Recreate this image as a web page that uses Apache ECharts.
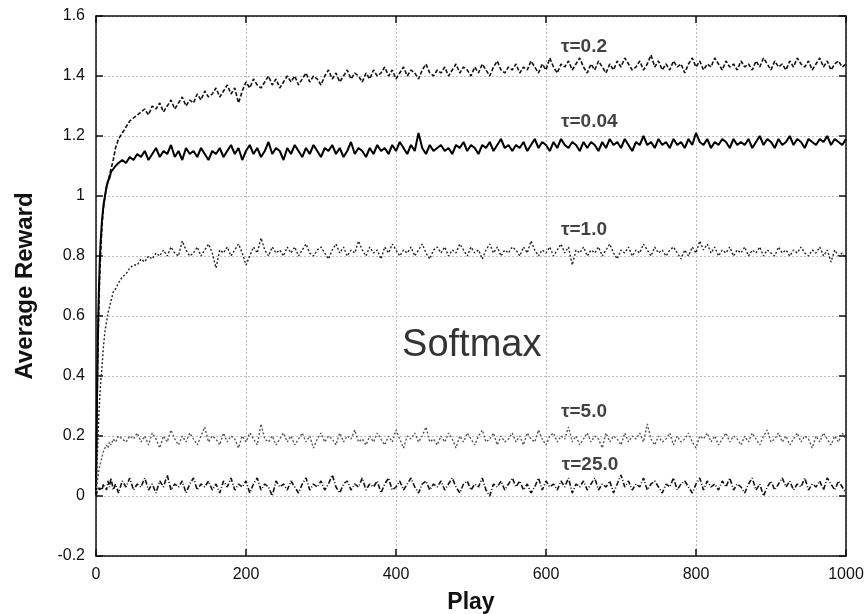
<!DOCTYPE html>
<html>
<head>
<meta charset="utf-8">
<script src="https://cdn.jsdelivr.net/npm/echarts@6/dist/echarts.min.js"></script>
<style>html,body{margin:0;padding:0;background:#fff}#c{width:868px;height:614px}</style>
</head>
<body>
<div id="c"></div>
<script>
var plays = [
  0,1,2,3,4,5,6,8,10,12,
  14,16,18,20,23,26,30,35,40,45,
  50,55,
  60,65,70,75,80,85,90,95,100,105,110,115,120,125,130,135,140,145,150,155,
  160,165,170,175,180,185,190,195,200,205,210,215,220,225,230,235,240,245,250,255,
  260,265,270,275,280,285,290,295,300,305,310,315,320,325,330,335,340,345,350,355,
  360,365,370,375,380,385,390,395,400,405,410,415,420,425,430,435,440,445,450,455,
  460,465,470,475,480,485,490,495,500,505,510,515,520,525,530,535,540,545,550,555,
  560,565,570,575,580,585,590,595,600,605,610,615,620,625,630,635,640,645,650,655,
  660,665,670,675,680,685,690,695,700,705,710,715,720,725,730,735,740,745,750,755,
  760,765,770,775,780,785,790,795,800,805,810,815,820,825,830,835,840,845,850,855,
  860,865,870,875,880,885,890,895,900,905,910,915,920,925,930,935,940,945,950,955,
  960,965,970,975,980,985,990,995,1000
];
var tau02 = [
  0.00,0.22,0.40,0.54,0.65,0.74,0.80,0.90,0.96,1.00,
  1.03,1.05,1.07,1.09,1.12,1.16,1.19,1.21,1.23,1.25,
  1.26,1.27,
  1.28,1.29,1.27,1.30,1.29,1.31,1.28,1.30,1.32,1.29,1.31,1.33,1.30,1.32,1.31,1.34,1.32,1.35,1.33,1.34,
  1.36,1.33,1.35,1.37,1.34,1.36,1.31,1.35,1.38,1.36,1.39,1.37,1.36,1.38,1.40,1.37,1.39,1.36,1.38,1.40,
  1.38,1.40,1.37,1.39,1.41,1.38,1.40,1.39,1.37,1.40,1.42,1.39,1.41,1.38,1.40,1.42,1.39,1.41,1.40,1.38,
  1.41,1.39,1.42,1.40,1.41,1.43,1.40,1.42,1.39,1.41,1.43,1.40,1.42,1.41,1.39,1.42,1.44,1.41,1.40,1.42,
  1.41,1.43,1.40,1.42,1.44,1.41,1.43,1.42,1.40,1.43,1.41,1.44,1.42,1.40,1.43,1.45,1.42,1.41,1.43,1.42,
  1.44,1.41,1.43,1.42,1.45,1.43,1.41,1.44,1.42,1.46,1.43,1.41,1.44,1.43,1.45,1.42,1.44,1.46,1.43,1.41,
  1.44,1.42,1.45,1.43,1.41,1.44,1.42,1.45,1.43,1.46,1.44,1.42,1.43,1.45,1.42,1.44,1.47,1.43,1.45,1.42,
  1.44,1.42,1.45,1.43,1.44,1.41,1.44,1.46,1.43,1.45,1.42,1.44,1.43,1.46,1.44,1.42,1.45,1.43,1.44,1.42,
  1.45,1.43,1.44,1.42,1.45,1.43,1.46,1.44,1.42,1.45,1.43,1.44,1.42,1.45,1.43,1.46,1.44,1.43,1.45,1.42,
  1.44,1.46,1.43,1.45,1.42,1.44,1.45,1.43,1.44
];
var tau004 = [
  0.00,0.25,0.45,0.60,0.70,0.78,0.84,0.92,0.97,1.00,
  1.03,1.05,1.06,1.08,1.09,1.10,1.11,1.12,1.11,1.13,
  1.12,1.14,
  1.13,1.15,1.12,1.14,1.16,1.13,1.15,1.14,1.17,1.13,1.15,1.12,1.16,1.14,1.15,1.13,1.16,1.14,1.12,1.15,
  1.14,1.16,1.13,1.15,1.17,1.14,1.16,1.12,1.15,1.17,1.14,1.16,1.13,1.15,1.18,1.14,1.16,1.15,1.12,1.16,
  1.14,1.17,1.15,1.13,1.16,1.14,1.17,1.15,1.13,1.16,1.15,1.17,1.14,1.16,1.13,1.15,1.18,1.14,1.16,1.15,
  1.13,1.16,1.14,1.17,1.15,1.16,1.14,1.17,1.15,1.18,1.16,1.14,1.17,1.15,1.21,1.16,1.14,1.17,1.15,1.16,
  1.17,1.15,1.16,1.14,1.17,1.16,1.18,1.15,1.17,1.16,1.14,1.17,1.16,1.18,1.15,1.17,1.19,1.16,1.17,1.15,
  1.17,1.16,1.18,1.15,1.17,1.19,1.16,1.18,1.17,1.15,1.18,1.16,1.19,1.17,1.16,1.18,1.17,1.15,1.18,1.16,
  1.18,1.17,1.15,1.18,1.16,1.19,1.17,1.18,1.16,1.19,1.17,1.15,1.18,1.17,1.20,1.17,1.18,1.16,1.19,1.17,
  1.18,1.16,1.19,1.17,1.18,1.16,1.19,1.17,1.21,1.18,1.17,1.19,1.16,1.18,1.17,1.19,1.18,1.16,1.19,1.17,
  1.18,1.17,1.19,1.16,1.18,1.20,1.17,1.19,1.18,1.16,1.19,1.17,1.18,1.20,1.17,1.19,1.18,1.16,1.19,1.18,
  1.17,1.19,1.18,1.20,1.17,1.19,1.18,1.17,1.19
];
var tau10 = [
  0.00,0.08,0.15,0.22,0.28,0.33,0.37,0.43,0.50,0.55,
  0.58,0.61,0.63,0.65,0.68,0.69,0.71,0.73,0.74,0.76,
  0.77,0.77,
  0.79,0.78,0.80,0.79,0.81,0.80,0.82,0.80,0.83,0.81,0.80,0.85,0.82,0.80,0.81,0.83,0.80,0.82,0.84,0.81,
  0.76,0.82,0.81,0.83,0.80,0.82,0.84,0.81,0.77,0.80,0.83,0.81,0.86,0.82,0.80,0.83,0.81,0.82,0.80,0.83,
  0.81,0.83,0.80,0.82,0.84,0.81,0.80,0.82,0.83,0.81,0.79,0.82,0.84,0.81,0.83,0.80,0.82,0.81,0.85,0.82,
  0.80,0.83,0.81,0.82,0.79,0.83,0.81,0.84,0.82,0.80,0.82,0.81,0.83,0.80,0.82,0.84,0.81,0.79,0.82,0.83,
  0.81,0.83,0.80,0.82,0.81,0.84,0.82,0.80,0.83,0.81,0.82,0.79,0.82,0.84,0.81,0.83,0.80,0.82,0.81,0.83,
  0.82,0.80,0.83,0.81,0.85,0.82,0.80,0.82,0.81,0.83,0.80,0.82,0.84,0.81,0.83,0.77,0.82,0.81,0.83,0.80,
  0.82,0.81,0.83,0.80,0.82,0.84,0.81,0.79,0.82,0.81,0.83,0.80,0.82,0.81,0.84,0.82,0.80,0.83,0.81,0.82,
  0.80,0.82,0.83,0.81,0.79,0.82,0.80,0.83,0.81,0.85,0.82,0.84,0.81,0.83,0.80,0.82,0.81,0.83,0.80,0.82,
  0.81,0.83,0.80,0.82,0.81,0.83,0.80,0.82,0.81,0.80,0.83,0.81,0.82,0.80,0.82,0.81,0.83,0.81,0.80,0.82,
  0.81,0.83,0.80,0.82,0.78,0.82,0.80,0.81,0.79
];
var tau50 = [
  0.00,0.03,0.05,0.07,0.09,0.10,0.11,0.13,0.15,0.16,
  0.17,0.16,0.18,0.17,0.19,0.18,0.20,0.19,0.18,0.20,
  0.19,0.21,
  0.18,0.20,0.17,0.21,0.19,0.16,0.20,0.18,0.22,0.19,0.17,0.20,0.18,0.21,0.19,0.17,0.20,0.23,0.18,0.20,
  0.19,0.17,0.21,0.18,0.20,0.19,0.16,0.20,0.18,0.21,0.19,0.17,0.24,0.19,0.18,0.20,0.17,0.19,0.21,0.18,
  0.20,0.17,0.19,0.21,0.18,0.20,0.16,0.19,0.21,0.18,0.20,0.19,0.17,0.21,0.18,0.20,0.19,0.22,0.18,0.19,
  0.17,0.20,0.18,0.21,0.19,0.17,0.20,0.18,0.22,0.19,0.16,0.20,0.19,0.21,0.18,0.20,0.23,0.18,0.19,0.17,
  0.20,0.18,0.21,0.19,0.16,0.20,0.18,0.21,0.19,0.17,0.20,0.22,0.18,0.19,0.21,0.17,0.20,0.18,0.19,0.21,
  0.18,0.20,0.17,0.21,0.19,0.18,0.22,0.19,0.17,0.20,0.21,0.18,0.20,0.19,0.23,0.18,0.20,0.17,0.19,0.21,
  0.18,0.20,0.19,0.16,0.21,0.18,0.20,0.19,0.17,0.21,0.18,0.20,0.19,0.21,0.18,0.24,0.19,0.17,0.20,0.18,
  0.19,0.21,0.17,0.20,0.18,0.19,0.21,0.18,0.16,0.20,0.19,0.21,0.18,0.20,0.17,0.19,0.21,0.18,0.20,0.19,
  0.17,0.20,0.18,0.21,0.19,0.17,0.20,0.22,0.18,0.19,0.21,0.18,0.20,0.17,0.19,0.21,0.18,0.20,0.19,0.16,
  0.20,0.18,0.21,0.19,0.17,0.20,0.18,0.21,0.19
];
var tau250 = [
  0.00,0.01,0.02,0.02,0.03,0.02,0.03,0.02,0.04,0.03,
  0.02,0.05,0.03,0.06,0.02,0.04,0.01,0.05,0.03,0.06,
  0.02,0.04,
  0.03,0.06,0.02,0.04,0.01,0.05,0.03,0.07,0.02,0.04,0.03,0.05,0.01,0.04,0.06,0.02,0.04,0.03,0.05,0.02,
  0.04,0.01,0.05,0.03,0.06,0.02,0.04,0.03,0.05,0.01,0.04,0.06,0.02,0.04,0.03,0.00,0.05,0.03,0.04,0.02,
  0.05,0.03,0.01,0.04,0.06,0.02,0.04,0.03,0.05,0.02,0.04,0.07,0.03,0.01,0.04,0.05,0.02,0.04,0.03,0.06,
  0.02,0.04,0.03,0.05,0.01,0.04,0.06,0.02,0.03,0.05,0.02,0.04,0.06,0.03,0.01,0.04,0.05,0.02,0.04,0.03,
  0.05,0.02,0.04,0.06,0.03,0.01,0.04,0.05,0.02,0.04,0.03,0.06,0.02,0.00,0.04,0.03,0.05,0.02,0.04,0.06,
  0.03,0.05,0.02,0.04,0.01,0.03,0.06,0.02,0.05,0.03,0.04,0.02,0.05,0.03,0.06,0.01,0.04,0.03,0.05,0.02,
  0.04,0.06,0.02,0.04,0.03,0.05,0.01,0.04,0.07,0.03,0.05,0.02,0.04,0.03,0.06,0.02,0.04,0.05,0.03,0.01,
  0.04,0.03,0.06,0.02,0.04,0.05,0.03,0.01,0.04,0.06,0.02,0.05,0.03,0.04,0.02,0.05,0.03,0.06,0.02,0.04,
  0.03,0.01,0.04,0.06,0.02,0.04,0.00,0.03,0.05,0.02,0.04,0.06,0.03,0.05,0.02,0.04,0.03,0.06,0.02,0.04,
  0.03,0.05,0.02,0.06,0.04,0.02,0.05,0.03,0.01
];
var seriesNames = ['τ=0.2','τ=0.04','τ=1.0','τ=5.0','τ=25.0'];
var labelX = [620, 620, 620, 620, 621];
var labelY = [1.497, 1.247, 0.887, 0.28, 0.103];
var noteText = 'Softmax';
var noteX = [501];
var noteY = [0.50];
var yTicks = [-0.2, 0, 0.2, 0.4, 0.6, 0.8, 1, 1.2, 1.4, 1.6];
var xTicks = [0, 200, 400, 600, 800, 1000];

function pairs(ys){ return plays.map(function(p,i){ return [p, ys[i]]; }); }

var FONT = 'Liberation Sans, Arial, sans-serif';
var chart = echarts.init(document.getElementById('c'), null, {renderer:'canvas'});

var styles = [
  {color:'#111', width:1.6, type:[4,2]},
  {color:'#000', width:2.0, type:'solid'},
  {color:'#222', width:1.4, type:[2,2]},
  {color:'#555', width:1.4, type:[2,2]},
  {color:'#111', width:1.6, type:[5,2,1,2]}
];
var allData = [tau02, tau004, tau10, tau50, tau250];
var series = allData.map(function(d,i){
  return {
    name: seriesNames[i], type:'line', data: pairs(d), showSymbol:false, symbol:'none',
    lineStyle: styles[i], silent:true, animation:false, z: 3, xAxisIndex:0, yAxisIndex:0
  };
});
series.push({
  type:'scatter', symbolSize:0, silent:true, animation:false, z:5,
  data: labelX.map(function(x,i){ return {value:[x,labelY[i]], name:seriesNames[i]}; }),
  label:{show:true, position:'right', distance:0, formatter:function(p){return p.name;},
    fontFamily:FONT, fontWeight:'bold', fontSize:19, color:'#111'}
});
series.push({
  type:'scatter', symbolSize:0, silent:true, animation:false, z:5,
  data: noteX.map(function(x,i){ return {value:[x,noteY[i]], name:noteText}; }),
  label:{show:true, position:'inside', formatter:function(p){return p.name;},
    fontFamily:FONT, fontSize:38, color:'#000'}
});

var splitStyle = {show:true, lineStyle:{color:'#bdbdbd', type:[2,2], width:1}};
var frameLine = {show:true, onZero:false, lineStyle:{color:'#111', width:1.5}};
var tickStyle = {show:true, inside:true, length:7, lineStyle:{color:'#111', width:1.5}};
chart.setOption({
  backgroundColor:'#fff',
  animation:false,
  grid:{left:96, right:22, top:16, bottom:58, containLabel:false, outerBoundsMode:'none'},
  xAxis:[{
    type:'value', min:xTicks[0], max:xTicks[xTicks.length-1], interval:200, position:'bottom',
    name:'Play', nameLocation:'middle', nameGap:35,
    nameTextStyle:{fontFamily:FONT, fontWeight:'bold', fontSize:23, color:'#111'},
    axisLine:frameLine, axisTick:tickStyle,
    axisLabel:{fontFamily:FONT, fontSize:16, color:'#111', margin:11,
      formatter:function(v){ return String(v); }},
    splitLine:splitStyle
  },{
    type:'value', min:xTicks[0], max:xTicks[xTicks.length-1], interval:200, position:'top',
    axisLine:frameLine, axisTick:tickStyle,
    axisLabel:{show:false}, splitLine:{show:false}
  }],
  yAxis:[{
    type:'value', min:yTicks[0], max:yTicks[yTicks.length-1], interval:0.2, position:'left',
    name:'Average Reward', nameLocation:'middle', nameGap:59,
    nameTextStyle:{fontFamily:FONT, fontWeight:'bold', fontSize:24, color:'#111'},
    axisLine:frameLine, axisTick:tickStyle,
    axisLabel:{fontFamily:FONT, fontSize:16, color:'#111', margin:11,
      formatter:function(v){ return String(Math.round(v*10)/10); }},
    splitLine:splitStyle
  },{
    type:'value', min:yTicks[0], max:yTicks[yTicks.length-1], interval:0.2, position:'right',
    axisLine:frameLine, axisTick:tickStyle,
    axisLabel:{show:false}, splitLine:{show:false}
  }],
  series: series
});
</script>
</body>
</html>
